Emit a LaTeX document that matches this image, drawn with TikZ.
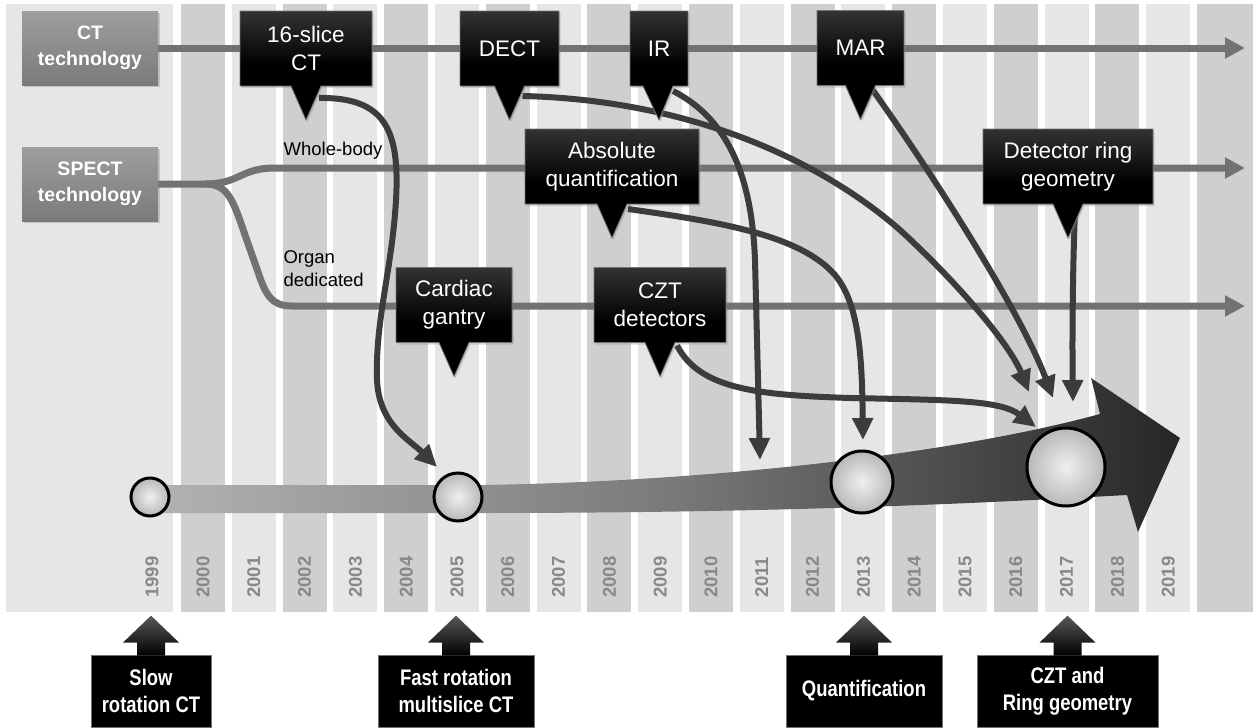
\documentclass[tikz,border=0pt]{standalone}
\usepackage{fontspec}
\setmainfont{Liberation Sans}
\newfontfamily\narrowfont[FakeStretch=0.82]{Liberation Sans}
\usetikzlibrary{arrows.meta,shapes.callouts,shadows}

\pgfdeclarelayer{stripes}
\pgfdeclarelayer{tracks}
\pgfsetlayers{stripes,tracks,main}

\definecolor{stripelight}{HTML}{E6E6E6}
\definecolor{stripedark}{HTML}{CFCFCF}
\definecolor{trackgray}{HTML}{727272}
\definecolor{linkgray}{HTML}{3C3C3C}
\definecolor{yeargray}{HTML}{888888}

\tikzset{
	srcbox/.style={rectangle, minimum width=136pt, minimum height=74pt, inner sep=0pt,
		top color=black!38, bottom color=black!52, text=white, align=center,
		font=\bfseries\fontsize{19.5}{26}\selectfont,
		drop shadow={opacity=0.35, shadow xshift=1.5pt, shadow yshift=-2pt}},
	callbox/.style={rectangle callout, callout relative pointer={(0,34)},
		callout pointer width=30pt, minimum height=75pt, inner sep=0pt,
		top color=black!80, bottom color=black, middle color=black,
		draw=black!55, line width=0.8pt, text=white, align=center,
		font=\fontsize{22.5}{28}\selectfont,
		drop shadow={opacity=0.3, shadow xshift=1.5pt, shadow yshift=-2pt}},
	stagebox/.style={rectangle, minimum height=72pt, inner sep=0pt, fill=black,
		draw=black!55, line width=0.8pt, text=white, align=center,
		font=\narrowfont\bfseries\fontsize{22.5}{27}\selectfont},
	track/.style={draw=trackgray, line width=7pt, -{Triangle[width=20pt,length=20pt]}},
	link/.style={draw=linkgray, line width=6pt, -{Triangle[width=20pt,length=22pt]}},
	era/.style={circle, draw=black, line width=3pt, inner sep=0pt,
		inner color=black!6, outer color=black!28},
	yearlab/.style={rotate=90, text=yeargray, font=\bfseries\fontsize{18.5}{20}\selectfont},
	note/.style={font=\fontsize{18.5}{23}\selectfont}
}

\begin{document}
\begin{tikzpicture}[x=1pt, y=-1pt]
	\useasboundingbox (0,0) rectangle (1253,728);
	\begin{pgfonlayer}{stripes}
		\fill[white] (0,0) rectangle (1253,728);
		\fill[stripelight] (6,4) rectangle (173,612);
		\foreach \i in {0,...,19}{
			\ifodd\i \def\col{stripelight}\else\def\col{stripedark}\fi
			\fill[\col] (181+50.8*\i,4) rectangle +(44,608);
		}
		\fill[stripedark] (1197,4) rectangle (1253,612);
	\end{pgfonlayer}

	% years
	\node[yearlab] (y1999) at (152,577) {1999};
	\foreach \i in {0,...,19}{
		\pgfmathtruncatemacro\yr{2000+\i}
		\node[yearlab] (y\yr) at (203+50.8*\i,577) {\yr};
	}

	% technologies
	\node[srcbox] (ct) at (90,48) {CT\\technology};
	\node[srcbox] (spect) at (90,184) {SPECT\\technology};
	\node[note] (wholebody) at (333,151) {Whole-body};
	\node[note, anchor=west, align=left] (organ) at (280,269) {Organ\\dedicated};

	% developments
	\node[callbox, minimum width=132pt] (slice) at (306,48.5) {16-slice\\CT};
	\node[callbox, minimum width=99pt] (dect) at (509.5,48.5) {DECT};
	\node[callbox, minimum width=58pt] (ir) at (659,48.5) {IR};
	\node[callbox, minimum width=87pt] (mar) at (860.5,48) {MAR};
	\node[callbox, minimum width=174pt] (absq) at (612,166.5) {Absolute\\quantification};
	\node[callbox, minimum width=170pt] (ring) at (1068,166.5) {Detector ring\\geometry};
	\node[callbox, minimum width=116pt] (cardiac) at (454,305) {Cardiac\\gantry};
	\node[callbox, minimum width=132pt] (czt) at (660,305) {CZT\\detectors};

	% milestones
	\node[era, minimum size=38pt] (c1999) at (150,497) {};
	\node[era, minimum size=48pt] (c2005) at (458,497) {};
	\node[era, minimum size=62pt] (c2013) at (862,482) {};
	\node[era, minimum size=78pt] (c2017) at (1066,467) {};
	\coordinate (irend) at (760,460);

	\node[stagebox, minimum width=120pt] (slow) at (151,691) {Slow\\rotation CT};
	\node[stagebox, minimum width=156pt] (fast) at (456,691) {Fast rotation\\multislice CT};
	\node[stagebox, minimum width=156pt] (quant) at (864,691) {Quantification};
	\node[stagebox, minimum width=181pt] (cztring) at (1067.5,691) {CZT and\\Ring geometry};
	\foreach \b in {slow,fast,quant,cztring}
		\path[top color=black!65, bottom color=black] ([shift={(-14,1)}]\b.north) -- ++(0,-13) -- ++(-14,0)
			-- ++(28,-27) -- ++(28,27) -- ++(-14,0) -- ++(0,13) -- cycle;

	\begin{pgfonlayer}{tracks}
		% timeline
		\shade[left color=black!30, right color=black!85, middle color=black!52]
			(150,485) -- (480,485) .. controls (700,482) and (950,455) .. (1100,414)
			-- (1091,378) -- (1180,438) -- (1138,532) -- (1127,495)
			.. controls (1000,502) and (800,513) .. (480,513) -- (150,513) -- cycle;

		\draw[track] (ct.east) -- (1245,48);
		\draw[track] (spect.east) -- (205,184) .. controls (240,184) and (240,168) .. (275,168) -- (1245,168);
		\draw[track] (205,184) .. controls (228,184) and (233,200) .. (245,235) -- (258,272)
			.. controls (266,296) and (272,306) .. (292,306) -- (1245,306);

		\draw[link] ([shift={(13,-23)}]slice.pointer) .. controls (385,97) and (400,130) .. (396,200)
			.. controls (392,270) and (375,320) .. (377,380)
			.. controls (379,425) and (410,440) .. ([shift={(-21,-30)}]c2005.center);
		\draw[link] ([shift={(13,-25)}]dect.pointer) .. controls (690,100) and (820,160) .. (900,230)
			.. controls (960,285) and (1010,345) .. ([shift={(-37,-75)}]c2017.center);
		\draw[link] ([shift={(14,-30)}]ir.pointer) .. controls (730,120) and (752,180) .. (755,260) -- (irend);
		\draw[link] ([shift={(16,-30)}]absq.pointer) .. controls (720,222) and (800,235) .. (835,275)
			.. controls (860,305) and (862,360) .. ([shift={(1,-42)}]c2013.center);
		\draw[link] ([shift={(17,-32)}]czt.pointer) .. controls (700,390) and (760,395) .. (850,398)
			.. controls (950,400) and (1000,400) .. ([shift={(-30,-40)}]c2017.center);
		\draw[link] ([shift={(9,-35)}]mar.pointer) .. controls (930,170) and (1020,310) .. ([shift={(-13,-69)}]c2017.center);
		\draw[link] ([shift={(7,-28)}]ring.pointer) .. controls (1073,260) and (1072,330) .. ([shift={(7,-65)}]c2017.center);
	\end{pgfonlayer}
\end{tikzpicture}
\end{document}
